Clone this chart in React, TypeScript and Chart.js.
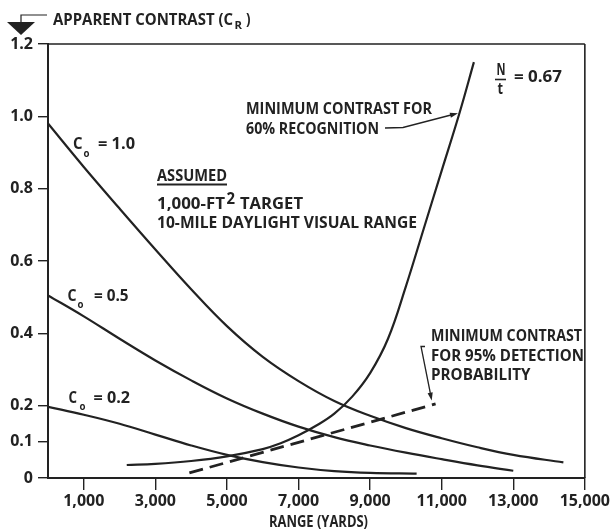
import React, { useEffect, useRef } from 'react';
import { Chart, registerables } from 'chart.js';

Chart.register(...registerables);

// ---- data ----
const xTicks = [1000, 3000, 5000, 7000, 9000, 11000, 13000, 15000];
const yTicks = [0, 0.1, 0.2, 0.4, 0.6, 0.8, 1.0, 1.2];

const c10Range = [0, 1000, 2000, 3000, 4000, 5000, 6000, 7000, 8000, 9000, 10000, 11000, 12000, 13000, 14400];
const c10Contrast = [0.98, 0.86, 0.745, 0.632, 0.522, 0.42, 0.335, 0.268, 0.213, 0.172, 0.138, 0.11, 0.085, 0.064, 0.043];

const c05Range = [0, 1000, 2000, 3000, 4000, 5000, 6000, 7000, 8000, 9000, 10000, 11000, 12000, 13000];
const c05Contrast = [0.505, 0.447, 0.385, 0.325, 0.27, 0.22, 0.178, 0.142, 0.113, 0.09, 0.07, 0.052, 0.035, 0.02];

const c02Range = [0, 1000, 2000, 3000, 4000, 5000, 6000, 7000, 8000, 9000, 10300];
const c02Contrast = [0.197, 0.175, 0.15, 0.12, 0.09, 0.064, 0.044, 0.029, 0.019, 0.014, 0.012];

const recogRange = [2200, 3000, 4000, 5000, 6000, 6500, 7000, 7500, 8000, 8500, 9000, 9500, 10000, 10500, 11000, 11500, 11900];
const recogContrast = [0.036, 0.039, 0.047, 0.06, 0.08, 0.096, 0.118, 0.145, 0.178, 0.225, 0.29, 0.385, 0.53, 0.69, 0.85, 1.01, 1.15];

const detectRange = [3950, 10830];
const detectContrast = [0.014, 0.205];

const INK = '#222222';
const FONT = '"Open Sans", "DejaVu Sans", sans-serif';

const pts = (xs: number[], ys: number[]) => xs.map((x, i) => ({ x, y: ys[i] }));

function fitText(ctx: CanvasRenderingContext2D, text: string, left: number, cy: number, width: number, size: number, weight = 'bold') {
  ctx.save();
  ctx.font = `${weight} ${size}px ${FONT}`;
  ctx.textBaseline = 'alphabetic';
  ctx.textAlign = 'left';
  const m = ctx.measureText(text).width;
  ctx.translate(left, cy + size * 0.357);
  ctx.scale(width / m, 1);
  ctx.fillStyle = INK;
  ctx.fillText(text, 0, 0);
  ctx.restore();
}

function arrowHead(ctx: CanvasRenderingContext2D, x1: number, y1: number, x2: number, y2: number, len = 8, half = 2.6) {
  const a = Math.atan2(y2 - y1, x2 - x1);
  ctx.beginPath();
  ctx.moveTo(x2, y2);
  ctx.lineTo(x2 - len * Math.cos(a) + half * Math.sin(a), y2 - len * Math.sin(a) - half * Math.cos(a));
  ctx.lineTo(x2 - len * Math.cos(a) - half * Math.sin(a), y2 - len * Math.sin(a) + half * Math.cos(a));
  ctx.closePath();
  ctx.fill();
}

const decorPlugin = {
  id: 'decor',
  afterDraw(chart: any) {
    const ctx: CanvasRenderingContext2D = chart.ctx;
    const { left, right, top, bottom } = chart.chartArea;
    ctx.save();
    ctx.strokeStyle = INK;
    ctx.fillStyle = INK;
    // frame top + right
    ctx.lineWidth = 1.6;
    ctx.beginPath();
    ctx.moveTo(left, top);
    ctx.lineTo(right, top);
    ctx.moveTo(right, top);
    ctx.lineTo(right, bottom);
    ctx.stroke();

    // title symbol
    ctx.beginPath();
    ctx.moveTo(7, 22);
    ctx.lineTo(35, 22);
    ctx.lineTo(21, 35);
    ctx.closePath();
    ctx.fill();
    ctx.lineWidth = 1.2;
    ctx.beginPath();
    ctx.moveTo(21, 22);
    ctx.lineTo(21, 15);
    ctx.lineTo(47, 15);
    ctx.stroke();

    // y title
    fitText(ctx, 'APPARENT CONTRAST (C', 53, 19, 180, 16);
    fitText(ctx, 'R', 234.5, 25.5, 7.5, 11);
    fitText(ctx, ')', 246, 19, 4.5, 16);

    // x title
    fitText(ctx, 'RANGE (YARDS)', 269, 521, 99, 15.5);

    // C0 labels
    fitText(ctx, 'C', 73, 143, 9.5, 16);
    fitText(ctx, 'o', 83.5, 153, 6, 11);
    fitText(ctx, '= 1.0', 98, 143, 37, 16);

    fitText(ctx, 'C', 67.5, 295, 9, 16);
    fitText(ctx, 'o', 77.5, 304, 6, 11);
    fitText(ctx, '= 0.5', 94, 295, 34.5, 16);

    fitText(ctx, 'C', 68.5, 397, 8.5, 16);
    fitText(ctx, 'o', 79.5, 406, 6, 11);
    fitText(ctx, '= 0.2', 93.5, 397, 36.5, 16);

    // N/t = 0.67
    fitText(ctx, 'N', 496.5, 69, 9, 16);
    ctx.lineWidth = 1.6;
    ctx.beginPath();
    ctx.moveTo(495, 79.5);
    ctx.lineTo(506, 79.5);
    ctx.stroke();
    fitText(ctx, 't', 497.5, 88, 5.5, 16);
    fitText(ctx, '= 0.67', 514, 76.5, 48, 16);

    // assumed block
    fitText(ctx, 'ASSUMED', 157, 175, 70, 15.5);
    ctx.lineWidth = 2;
    ctx.beginPath();
    ctx.moveTo(157, 184.5);
    ctx.lineTo(227, 184.5);
    ctx.stroke();
    fitText(ctx, '1,000-FT', 157, 203.5, 68, 15.5);
    fitText(ctx, '2', 226.5, 198, 8.5, 15.5);
    fitText(ctx, 'TARGET', 240, 203.5, 63, 15.5);
    fitText(ctx, '10-MILE DAYLIGHT VISUAL RANGE', 157, 222.5, 260, 15.5);

    // 60% recognition label + leader
    fitText(ctx, 'MINIMUM CONTRAST FOR', 246, 108.5, 186, 15.5);
    fitText(ctx, '60% RECOGNITION', 246, 128, 133, 15.5);
    ctx.lineWidth = 1.3;
    ctx.beginPath();
    ctx.moveTo(385, 128);
    ctx.lineTo(403, 127.5);
    ctx.lineTo(451, 115);
    ctx.stroke();
    arrowHead(ctx, 403, 127.5, 458, 113.3);

    // 95% detection label + leader
    fitText(ctx, 'MINIMUM CONTRAST', 431, 335, 151, 15.5);
    fitText(ctx, 'FOR 95% DETECTION', 431, 355, 153, 15.5);
    fitText(ctx, 'PROBABILITY', 431, 374.5, 99.5, 15.5);
    ctx.lineWidth = 1.3;
    ctx.beginPath();
    ctx.moveTo(425, 346.5);
    ctx.lineTo(421, 346.5);
    ctx.lineTo(430.3, 393);
    ctx.stroke();
    arrowHead(ctx, 421, 346.5, 431.7, 400.5);
    ctx.restore();
  },
};

function line(data: { x: number; y: number }[], dash: number[] = [], width = 2.2) {
  return {
    data,
    borderColor: INK,
    borderWidth: width,
    borderDash: dash,
    pointRadius: 0,
    showLine: true,
    fill: false,
    tension: 0.4,
    borderCapStyle: 'butt' as const,
  };
}

export default function App() {
  const ref = useRef<HTMLCanvasElement>(null);
  useEffect(() => {
    document.body.style.margin = '0';
    const canvas = ref.current!;
    const chart = new Chart(canvas, {
      type: 'scatter',
      data: {
        datasets: [
          line(pts(c10Range, c10Contrast)),
          line(pts(c05Range, c05Contrast)),
          line(pts(c02Range, c02Contrast)),
          line(pts(recogRange, recogContrast)),
          line(pts(detectRange, detectContrast), [14, 7], 2.8),
        ] as any,
      },
      options: {
        responsive: false,
        animation: false,
        devicePixelRatio: 1,
        layout: { padding: { top: 44, right: 24, left: 0, bottom: 0 } },
        plugins: { legend: { display: false }, tooltip: { enabled: false } },
        scales: {
          x: {
            type: 'linear',
            min: 0,
            max: 15000,
            afterBuildTicks: (s: any) => {
              s.ticks = xTicks.map((v) => ({ value: v }));
            },
            afterFit: (s: any) => {
              s.height = 54;
            },
            ticks: {
              autoSkip: false,
              maxRotation: 0,
              padding: 2,
              color: INK,
              font: { family: FONT, size: 16, weight: 'bold' },
              callback: (v: any) => Number(v).toLocaleString('en-US'),
            },
            grid: { drawOnChartArea: false, drawTicks: true, tickLength: 12, color: INK, lineWidth: 1.4 },
            border: { display: true, color: INK, width: 2 },
          },
          y: {
            type: 'linear',
            min: 0,
            max: 1.2,
            afterBuildTicks: (s: any) => {
              s.ticks = yTicks.map((v) => ({ value: v }));
            },
            afterFit: (s: any) => {
              s.width = 48;
            },
            ticks: {
              autoSkip: false,
              padding: 5,
              color: INK,
              font: { family: FONT, size: 16, weight: 'bold' },
              callback: (v: any) => (Number(v) === 0 ? '0' : Number(v).toFixed(1)),
            },
            grid: { drawOnChartArea: false, drawTicks: true, tickLength: 10, color: INK, lineWidth: 1.4 },
            border: { display: true, color: INK, width: 2 },
          },
        },
      },
      plugins: [decorPlugin],
    });
    return () => chart.destroy();
  }, []);
  return (
    <div style={{ width: 612, height: 532, background: '#fff' }}>
      <canvas ref={ref} width={612} height={532} style={{ display: 'block', width: 612, height: 532 }} />
    </div>
  );
}
